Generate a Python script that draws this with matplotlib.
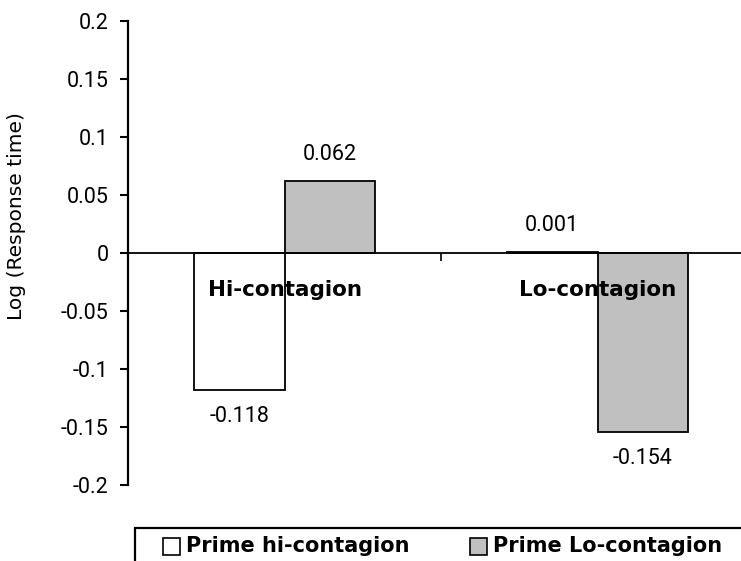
import matplotlib
matplotlib.use("Agg")
import matplotlib.pyplot as plt
from matplotlib.patches import Rectangle
import numpy as np

categories = ["Hi-contagion", "Lo-contagion"]
series_names = ["Prime hi-contagion", "Prime Lo-contagion"]
prime_hi = [-0.118, 0.001]
prime_lo = [0.062, -0.154]
value_labels_hi = ["-0.118", "0.001"]
value_labels_lo = ["0.062", "-0.154"]
yticks = [-0.2, -0.15, -0.1, -0.05, 0, 0.05, 0.1, 0.15, 0.2]
ytick_labels = ["-0.2", "-0.15", "-0.1", "-0.05", "0", "0.05", "0.1", "0.15", "0.2"]
colors = ["#FFFFFF", "#C0C0C0"]

W, H = 741, 561
fig = plt.figure(figsize=(W / 100, H / 100), dpi=100)
ax = fig.add_axes([128 / W, 76 / H, 626 / W, 464 / H])

x = np.arange(len(categories))
bw = 0.29
series = [prime_hi, prime_lo]
labels = [value_labels_hi, value_labels_lo]
offsets = [-bw / 2, bw / 2]
for s, vals, labs, off, col in zip(series_names, series, labels, offsets, colors):
    bars = ax.bar(x + off, vals, width=bw, color=col, edgecolor="black", linewidth=1.3, zorder=2)
    for b, v, lab in zip(bars, vals, labs):
        dy = 19 if v >= 0 else -19
        ax.annotate(lab, (b.get_x() + b.get_width() / 2, v), xytext=(0, dy),
                    textcoords="offset points", ha="center", va="center",
                    fontsize=15.5, family="Roboto")

for i, c in enumerate(categories):
    ax.annotate(c, (x[i], 0), xytext=(0, -27), textcoords="offset points",
                ha="center", va="center", fontsize=15.5, fontweight="bold",
                family="DejaVu Sans", zorder=3)

ax.set_xlim(-0.5, 1.5)
ax.set_ylim(-0.2, 0.2)
ax.set_yticks(yticks)
ax.set_yticklabels(ytick_labels, family="Roboto", fontsize=15.5)
ax.set_xticks([0.5])
ax.set_xticklabels([""])
ax.tick_params(axis="y", direction="out", length=6, width=1.5, pad=8)
ax.tick_params(axis="x", direction="out", length=6, width=1.2)
ax.spines["top"].set_visible(False)
ax.spines["right"].set_visible(False)
ax.spines["bottom"].set_position(("data", 0))
ax.spines["bottom"].set_linewidth(1.3)
ax.spines["bottom"].set_zorder(3)
ax.spines["left"].set_linewidth(1.6)
ax.set_ylabel("Log (Response time)", family="DejaVu Sans", fontsize=14.6)
ax.yaxis.set_label_coords((26 - 128) / 626, (485 - 216) / 464)

# legend box (manual)
fig.patches.append(Rectangle((135 / W, -0.1), 700 / W, 0.1 + (H - 528) / H,
                             transform=fig.transFigure, facecolor="white",
                             edgecolor="black", linewidth=1.6))
sq_x = [163, 470]
txt_x = [186, 493]
for sx, tx, name, col in zip(sq_x, txt_x, series_names, colors):
    fig.patches.append(Rectangle((sx / W, (H - 555) / H), 17 / W, 17 / H,
                                 transform=fig.transFigure, facecolor=col,
                                 edgecolor="black", linewidth=1.2))
    fig.text(tx / W, (H - 546) / H, name, ha="left", va="center", fontsize=15,
             fontweight="bold", family="DejaVu Sans")

fig.savefig("out.png", dpi=100)
